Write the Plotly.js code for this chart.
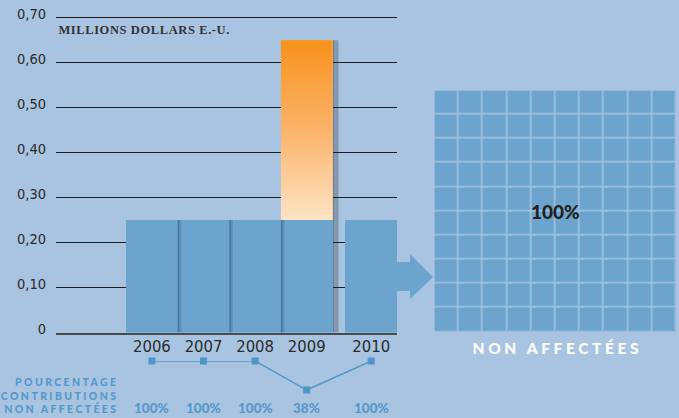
<!DOCTYPE html>
<html>
<head>
<meta charset="utf-8">
<script src="https://cdn.plot.ly/plotly-3.0.1.min.js"></script>
<style>
  html, body { margin: 0; padding: 0; background: #a8c4e0; }
  #chart { width: 679px; height: 418px; }
  .annotation[data-index="0"] text { letter-spacing: 0.6px; }
  .annotation[data-index="1"] text { letter-spacing: 2.4px; }
  .annotation[data-index="3"] text { letter-spacing: 3.6px; }
</style>
</head>
<body>
<div id="chart"></div>
<script>
// ---------- DATA ----------
const years = ['2006', '2007', '2008', '2009', '2010'];
const unearmarked = [0.25, 0.25, 0.25, 0.25, 0.25];     // millions USD, non affectées
const earmarked   = [0, 0, 0, 0.40, 0];                   // millions USD, affectées
const pctUnearmarked = [100, 100, 100, 38, 100];          // % contributions non affectées
const yTickVals = [0, 0.1, 0.2, 0.3, 0.4, 0.5, 0.6, 0.7];
const yTickText = ['0', '0,10', '0,20', '0,30', '0,40', '0,50', '0,60', '0,70'];
const unitLabel = 'MILLIONS DOLLARS E.-U.';
const pctLabelLines = ['POURCENTAGE', 'CONTRIBUTIONS', 'NON AFFECTÉES'];
const allocationShare = 100;              // % of 2010 contributions
const allocationLabel = 'NON AFFECTÉES';

// ---------- STYLE / LAYOUT CONSTANTS ----------
const W = 679, H = 418;
const BG = '#a8c4e0';
const BAR_BLUE = '#6ca4cd';
const LINE_BLUE = '#4f95c7';
const TEXT_BLUE = '#5599ca';
const DARK = '#2b2b2b';
const GAP_LAST = 0.25;  // extra space before the last year
const NARROW = '"Liberation Sans Narrow", "DejaVu Sans Condensed", "Liberation Sans", sans-serif';
const px = x => x / W;
const py = y => 1 - y / H;

const pos = years.map((y, i) => i + (i === years.length - 1 ? GAP_LAST : 0));
const totals = unearmarked.map((v, i) => v + earmarked[i]);

// ---------- TRACES ----------
const traces = [];
traces.push({
  type: 'bar', x: pos, y: unearmarked, width: 1,
  marker: { color: BAR_BLUE, line: { width: 0 } },
  hoverinfo: 'skip', showlegend: false
});
traces.push({
  type: 'bar', x: pos, y: earmarked, base: unearmarked, width: 1,
  marker: { color: '#fbb56c', line: { width: 0 } },
  hoverinfo: 'skip', showlegend: false
});
earmarked.forEach((v, i) => {
  if (v <= 0) return;
  const x0 = pos[i] - 0.5, x1 = pos[i] + 0.5, y0 = unearmarked[i], y1 = totals[i];
  traces.push({
    type: 'scatter', mode: 'none', fill: 'toself',
    x: [x0, x1, x1, x0, x0], y: [y0, y0, y1, y1, y0],
    fillgradient: { type: 'vertical', start: y0, stop: y1,
      colorscale: [[0, '#fee4c6'], [0.5, '#fbb36a'], [1, '#f7921c']] },
    hoverinfo: 'skip', showlegend: false
  });
});
traces.push({
  type: 'scatter', mode: 'lines+markers', x: pos, y: pctUnearmarked,
  xaxis: 'x', yaxis: 'y2', cliponaxis: false,
  line: { color: LINE_BLUE, width: 1.4 },
  marker: { symbol: 'square', size: 7, color: LINE_BLUE },
  hoverinfo: 'skip', showlegend: false
});
// waffle of the 2010 allocation
const z = [];
for (let r = 0; r < 10; r++) {
  const row = [];
  for (let c = 0; c < 10; c++) row.push((r * 10 + c) < allocationShare ? 1 : 0);
  z.push(row);
}
traces.push({
  type: 'heatmap', z: z, xaxis: 'x3', yaxis: 'y3',
  zmin: 0, zmax: 1, colorscale: [[0, BG], [1, BAR_BLUE]], showscale: false,
  xgap: 1.5, ygap: 1.5, hoverinfo: 'skip'
});

// ---------- SHAPES (shadows + arrow) ----------
const unit = 51.5; // px per category
const shapes = [];
for (let i = 0; i < years.length - 2; i++) {
  const e = pos[i] + 0.5;
  shapes.push({ type: 'rect', xref: 'x', yref: 'y', x0: e, x1: e + 1.5 / unit, y0: 0, y1: Math.min(totals[i], totals[i + 1]),
    fillcolor: 'rgba(30,60,95,0.45)', line: { width: 0 }, layer: 'above' });
  shapes.push({ type: 'rect', xref: 'x', yref: 'y', x0: e + 1.5 / unit, x1: e + 3.5 / unit, y0: 0, y1: Math.min(totals[i], totals[i + 1]),
    fillcolor: 'rgba(30,60,95,0.18)', line: { width: 0 }, layer: 'above' });
}
{
  const i = years.length - 2;
  const e = pos[i] + 0.5;
  shapes.push({ type: 'rect', xref: 'x', yref: 'y', x0: e, x1: e + 2 / unit, y0: 0, y1: totals[i],
    fillcolor: '#667f98', line: { width: 0 }, layer: 'below' });
  shapes.push({ type: 'rect', xref: 'x', yref: 'y', x0: e + 2 / unit, x1: e + 6 / unit, y0: 0, y1: totals[i],
    fillcolor: '#8299b0', line: { width: 0 }, layer: 'below' });
}
// arrow
const arrowPts = [[397, 262], [410, 262], [410, 254], [433, 277], [410, 299], [410, 291], [397, 291]];
shapes.push({
  type: 'path', xref: 'paper', yref: 'paper',
  path: 'M' + arrowPts.map(p => px(p[0]).toFixed(5) + ',' + py(p[1]).toFixed(5)).join(' L') + ' Z',
  fillcolor: BAR_BLUE, line: { width: 0 }, layer: 'above'
});

// ---------- ANNOTATIONS ----------
const annotations = [];
annotations.push({ // 0
  text: unitLabel, xref: 'paper', yref: 'paper', x: px(144), y: py(30),
  xanchor: 'center', yanchor: 'middle', showarrow: false,
  font: { family: '"Liberation Serif", "DejaVu Serif", serif', size: 12.5, weight: 700, color: '#333333' }
});
annotations.push({ // 1
  text: pctLabelLines.join('<br>'), xref: 'paper', yref: 'paper', x: px(121), y: py(395),
  xanchor: 'right', yanchor: 'middle', align: 'right', showarrow: false,
  font: { family: 'Lato, "DejaVu Sans", sans-serif', size: 10.5, weight: 900, color: TEXT_BLUE }
});
annotations.push({ // 2
  text: allocationShare + '%', xref: 'x3', yref: 'y3', x: 4.5, y: 4.5,
  xanchor: 'center', yanchor: 'middle', showarrow: false,
  font: { family: 'Lato, "DejaVu Sans", sans-serif', size: 19, weight: 900, color: '#231f20' }
});
annotations.push({ // 3
  text: allocationLabel, xref: 'paper', yref: 'paper', x: px(557), y: py(348),
  xanchor: 'center', yanchor: 'middle', showarrow: false,
  font: { family: 'Lato, "DejaVu Sans", sans-serif', size: 15.5, weight: 900, color: '#ffffff' }
});
pctUnearmarked.forEach((p, i) => {
  annotations.push({
    text: p + '%', xref: 'x', yref: 'paper', x: pos[i], y: py(408),
    xanchor: 'center', yanchor: 'middle', showarrow: false,
    font: { family: 'Lato, "DejaVu Sans", sans-serif', size: 13.5, weight: 900, color: TEXT_BLUE }
  });
});

// ---------- LAYOUT ----------
const yTop = 0.706;
const zeroPx = 332.5, pxPerUnit = (332.5 - 17.7) / 0.7;
const layout = {
  width: W, height: H,
  margin: { l: 0, r: 0, t: 0, b: 0, pad: 0 },
  paper_bgcolor: BG, plot_bgcolor: 'rgba(0,0,0,0)',
  barmode: 'overlay', bargap: 0,
  showlegend: false,
  xaxis: {
    domain: [px(56), px(397)], range: [-0.5 - 70 / unit, pos[pos.length - 1] + 0.5],
    tickmode: 'array', tickvals: pos, ticktext: years,
    showgrid: false, zeroline: false,
    showline: true, linecolor: '#4a4a4a', linewidth: 2, layer: 'above traces',
    ticks: '', ticklabelstandoff: -2,
    tickfont: { family: NARROW, size: 16.5, color: DARK },
    fixedrange: true, anchor: 'y'
  },
  yaxis: {
    domain: [py(zeroPx), py(zeroPx - yTop * pxPerUnit)], range: [0, yTop],
    tickmode: 'array', tickvals: yTickVals, ticktext: yTickText,
    showgrid: true, gridcolor: '#231f20', gridwidth: 1,
    zeroline: false,
    showline: false, ticks: '', ticklabelstandoff: 9, ticklabelshift: -4,
    tickfont: { family: NARROW, size: 14.5, color: DARK },
    fixedrange: true, anchor: 'x'
  },
  yaxis2: {
    domain: [py(390), py(361)], range: [38, 100], visible: false, anchor: 'x', fixedrange: true
  },
  xaxis3: {
    domain: [px(434.5), px(676.5)], range: [-0.5, 9.5], visible: false, anchor: 'y3', fixedrange: true
  },
  yaxis3: {
    domain: [py(332), py(90.5)], range: [-0.5, 9.5], visible: false, anchor: 'x3', fixedrange: true
  },
  shapes: shapes,
  annotations: annotations
};

Plotly.newPlot('chart', traces, layout, { staticPlot: true, displayModeBar: false });
</script>
</body>
</html>
